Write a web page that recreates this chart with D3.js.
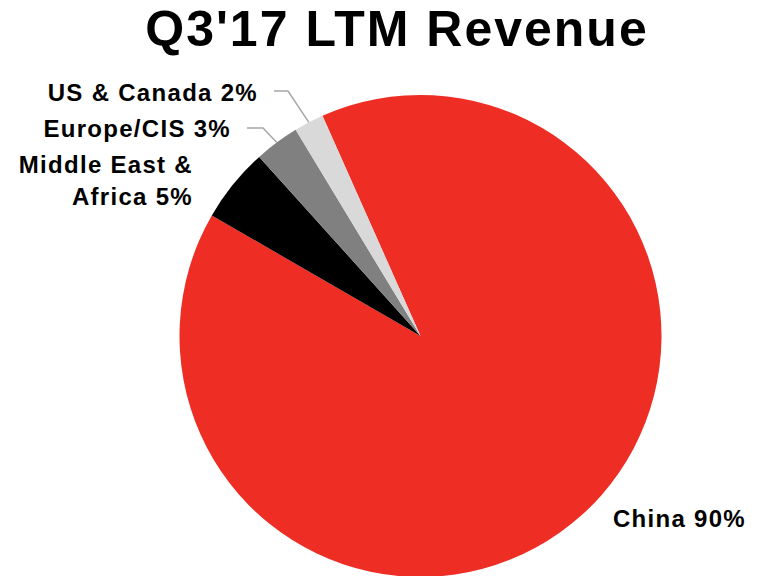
<!DOCTYPE html>
<html><head><meta charset="utf-8">
<script src="https://cdn.jsdelivr.net/npm/d3@7"></script>
<style>html,body{margin:0;padding:0;background:#fff;}svg{display:block;}</style>
</head><body>
<script>
const title = "Q3'17 LTM Revenue";
const categories = ["China", "Middle East & Africa", "Europe/CIS", "US & Canada"];
const values = [90, 5, 3, 2];
const colors = ["#EE2E24", "#000000", "#808080", "#D9D9D9"];

const W = 763, H = 576;
const svg = d3.select("body").append("svg").attr("width", W).attr("height", H);
const font = "'Liberation Sans', Arial, sans-serif";

svg.append("text").attr("x", 397).attr("y", 46).attr("text-anchor", "middle")
  .attr("font-family", font).attr("font-weight", "bold").attr("font-size", 50)
  .attr("letter-spacing", 2).attr("fill", "#000").text(title);

const cx = 420.5, cy = 336, r = 241;
const start = -24 * Math.PI / 180;
const pie = d3.pie().sort(null).startAngle(start).endAngle(start + 2 * Math.PI);
const arcs = pie(values);
const arc = d3.arc().innerRadius(0).outerRadius(r);
const g = svg.append("g").attr("transform", `translate(${cx},${cy})`);
g.selectAll("path").data(arcs).enter().append("path")
  .attr("d", arc).attr("fill", (d, i) => colors[i]);

// labels
const lbl = (x, y, anchor, lines) => {
  const t = svg.append("text").attr("x", x).attr("y", y).attr("text-anchor", anchor)
    .attr("font-family", font).attr("font-weight", "bold").attr("font-size", 24)
    .attr("letter-spacing", 1.3).attr("fill", "#000");
  lines.forEach((s, i) => t.append("tspan").attr("x", x).attr("dy", i ? 32 : 0).text(s));
};
lbl(746, 527, "end", [categories[0] + " " + values[0] + "%"]);
lbl(193, 173, "end", ["Middle East &", "Africa " + values[1] + "%"]);
lbl(231, 137, "end", [categories[2] + " " + values[2] + "%"]);
lbl(258, 101, "end", [categories[3] + " " + values[3] + "%"]);

// leader lines
const leader = (pts) => svg.append("polyline").attr("points", pts.map(p => p.join(",")).join(" "))
  .attr("fill", "none").attr("stroke", "#A6A6A6").attr("stroke-width", 1.5);
const edgePt = (d, f) => { const a = (d.startAngle + d.endAngle) / 2; return [cx + Math.sin(a) * r * f, cy - Math.cos(a) * r * f]; };
leader([[274, 91], [288, 91], edgePt(arcs[3], 1.0)]);
leader([[247, 128], [263, 128], edgePt(arcs[2], 1.0)]);
</script>
</body></html>
